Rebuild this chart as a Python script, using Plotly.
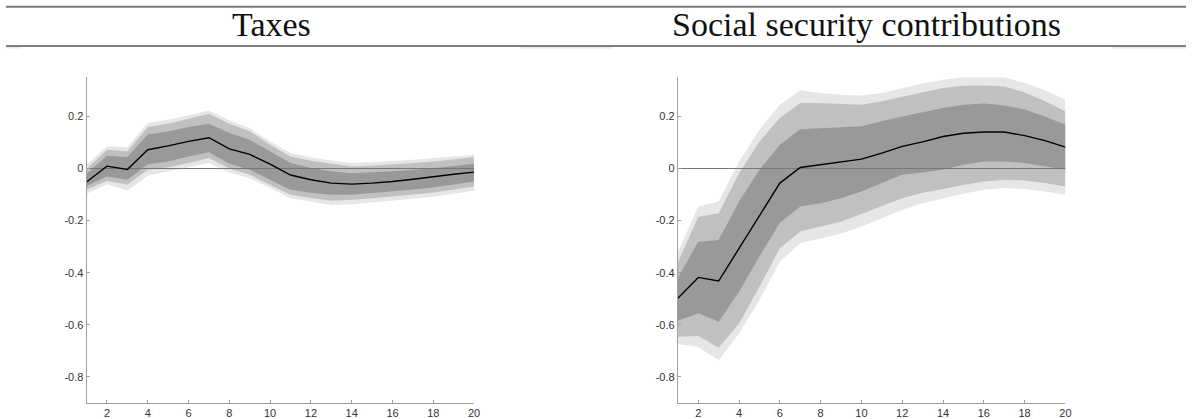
import plotly.graph_objects as go

# Horizon (periods)
periods = list(range(1, 21))

# ---- Taxes ----
tax_median = [-0.052, 0.009, -0.004, 0.072, 0.087, 0.104, 0.118, 0.075, 0.054, 0.017,
              -0.025, -0.043, -0.056, -0.060, -0.056, -0.050, -0.041, -0.031, -0.022, -0.014]
tax_outer_hi = [0.014, 0.085, 0.082, 0.175, 0.187, 0.203, 0.223, 0.185, 0.155, 0.104,
                0.059, 0.042, 0.031, 0.021, 0.024, 0.028, 0.034, 0.040, 0.047, 0.053]
tax_outer_lo = [-0.097, -0.060, -0.085, -0.028, -0.012, 0.005, 0.021, -0.015, -0.037, -0.075,
                -0.114, -0.128, -0.140, -0.137, -0.130, -0.123, -0.116, -0.108, -0.096, -0.085]
tax_mid_hi = [-0.002, 0.072, 0.066, 0.159, 0.172, 0.190, 0.210, 0.172, 0.143, 0.091,
              0.046, 0.030, 0.018, 0.008, 0.011, 0.015, 0.021, 0.027, 0.036, 0.044]
tax_mid_lo = [-0.082, -0.047, -0.062, -0.005, 0.005, 0.021, 0.040, 0.000, -0.024, -0.063,
              -0.101, -0.113, -0.124, -0.120, -0.114, -0.108, -0.100, -0.092, -0.080, -0.069]
tax_inner_hi = [-0.020, 0.049, 0.044, 0.130, 0.142, 0.159, 0.172, 0.136, 0.110, 0.065,
                0.021, 0.003, -0.011, -0.018, -0.015, -0.011, -0.005, 0.001, 0.010, 0.018]
tax_inner_lo = [-0.067, -0.031, -0.043, 0.015, 0.027, 0.046, 0.062, 0.018, -0.005, -0.043,
                -0.082, -0.093, -0.101, -0.101, -0.095, -0.088, -0.081, -0.073, -0.061, -0.050]

# ---- Social security contributions ----
ssc_median = [-0.498, -0.418, -0.432, -0.306, -0.180, -0.056, 0.004, 0.014, 0.024, 0.036,
              0.059, 0.085, 0.102, 0.123, 0.135, 0.140, 0.140, 0.126, 0.107, 0.082]
ssc_outer_hi = [-0.320, -0.146, -0.127, 0.027, 0.149, 0.245, 0.300, 0.290, 0.283, 0.280,
                0.290, 0.309, 0.326, 0.341, 0.350, 0.350, 0.350, 0.328, 0.300, 0.264]
ssc_outer_lo = [-0.674, -0.685, -0.736, -0.633, -0.505, -0.358, -0.287, -0.268, -0.249, -0.223,
                -0.191, -0.159, -0.133, -0.114, -0.097, -0.082, -0.075, -0.079, -0.088, -0.101]
ssc_mid_hi = [-0.360, -0.185, -0.172, -0.018, 0.104, 0.194, 0.251, 0.251, 0.248, 0.245,
              0.258, 0.275, 0.292, 0.309, 0.318, 0.319, 0.315, 0.292, 0.258, 0.219]
ssc_mid_lo = [-0.646, -0.643, -0.688, -0.595, -0.454, -0.306, -0.242, -0.223, -0.204, -0.174,
              -0.143, -0.114, -0.093, -0.079, -0.063, -0.050, -0.043, -0.046, -0.056, -0.069]
ssc_inner_hi = [-0.420, -0.281, -0.274, -0.127, -0.005, 0.091, 0.151, 0.155, 0.158, 0.162,
                0.181, 0.200, 0.216, 0.232, 0.245, 0.249, 0.242, 0.226, 0.200, 0.168]
ssc_inner_lo = [-0.584, -0.556, -0.588, -0.473, -0.338, -0.208, -0.146, -0.133, -0.114, -0.088,
                -0.056, -0.024, -0.015, -0.005, 0.014, 0.027, 0.027, 0.021, 0.008, -0.005]

titles = ["Taxes", "Social security contributions"]
y_ticks = [-0.8, -0.6, -0.4, -0.2, 0, 0.2]
y_tick_text = ["-0.8", "-0.6", "-0.4", "-0.2", "0", "0.2"]
x_ticks = list(range(2, 21, 2))

band_colors = ["#e6e6e6", "#c0c0c0", "#999999"]

W, H = 1192, 419
fig = go.Figure()


def band(xa, ya, hi, lo, color):
    fig.add_trace(go.Scatter(
        x=periods + periods[::-1], y=hi + lo[::-1],
        fill="toself", fillcolor=color, mode="lines",
        line=dict(width=0, color=color), hoverinfo="skip",
        showlegend=False, xaxis=xa, yaxis=ya))


panels = [
    ("x", "y", tax_median, [(tax_outer_hi, tax_outer_lo), (tax_mid_hi, tax_mid_lo), (tax_inner_hi, tax_inner_lo)]),
    ("x2", "y2", ssc_median, [(ssc_outer_hi, ssc_outer_lo), (ssc_mid_hi, ssc_mid_lo), (ssc_inner_hi, ssc_inner_lo)]),
]

for xa, ya, med, bands in panels:
    for (hi, lo), col in zip(bands, band_colors):
        band(xa, ya, hi, lo, col)

# zero reference line above the bands
for xa, ya, _, _ in panels:
    fig.add_trace(go.Scatter(x=[periods[0], periods[-1]], y=[0, 0], mode="lines",
                             line=dict(color="#777777", width=1), hoverinfo="skip",
                             showlegend=False, xaxis=xa, yaxis=ya))

for xa, ya, med, _ in panels:
    fig.add_trace(go.Scatter(x=periods, y=med, mode="lines",
                             line=dict(color="black", width=1.4), hoverinfo="skip",
                             showlegend=False, xaxis=xa, yaxis=ya))

axis_col = "#a0a0a0"
tick_font = dict(family="Liberation Sans, Arial, sans-serif", size=11, color="#333333")
ydom = [1 - 403 / H, 1 - 77.3 / H]
xdoms = [[87 / W, 476.5 / W], [681.3 / W, 1070.8 / W]]

common_x = dict(range=[1, 20], tickvals=x_ticks, ticks="inside", ticklen=3, tickcolor=axis_col,
                showline=True, linecolor=axis_col, linewidth=1, showgrid=False, zeroline=False,
                tickfont=tick_font, fixedrange=True)
common_y = dict(range=[-0.9, 0.35], tickvals=y_ticks, ticktext=y_tick_text, ticks="inside",
                ticklen=3, tickcolor=axis_col, showline=True, linecolor=axis_col, linewidth=1,
                showgrid=False, zeroline=False, tickfont=tick_font, domain=ydom, fixedrange=True)

fig.update_layout(
    width=W, height=H, margin=dict(l=0, r=0, t=0, b=0),
    paper_bgcolor="white", plot_bgcolor="white",
    xaxis=dict(domain=xdoms[0], anchor="y", **common_x),
    yaxis=dict(anchor="x", **common_y),
    xaxis2=dict(domain=xdoms[1], anchor="y2", **common_x),
    yaxis2=dict(anchor="x2", **common_y),
)

# header rules
def hline(x0, x1, y, color, width):
    fig.add_shape(type="line", xref="paper", yref="paper",
                  x0=x0 / W, x1=x1 / W, y0=1 - y / H, y1=1 - y / H,
                  line=dict(color=color, width=width))

hline(6, W, 6.8, "#7a7a7a", 2)
hline(6, W, 46, "black", 1)
for a, b in [(6, 21), (523, 616), (1118, W)]:
    hline(a, b, 47.8, "#e4e4e4", 1.2)

title_font = dict(family="Liberation Serif, Times New Roman, serif", size=34, color="#111111")
for cx, txt in zip([272.5, 870.5], titles):
    fig.add_annotation(x=cx / W, y=1 - 24.5 / H, xref="paper", yref="paper",
                       text=txt, showarrow=False, font=title_font,
                       xanchor="center", yanchor="middle")

fig.write_html("out.html")
